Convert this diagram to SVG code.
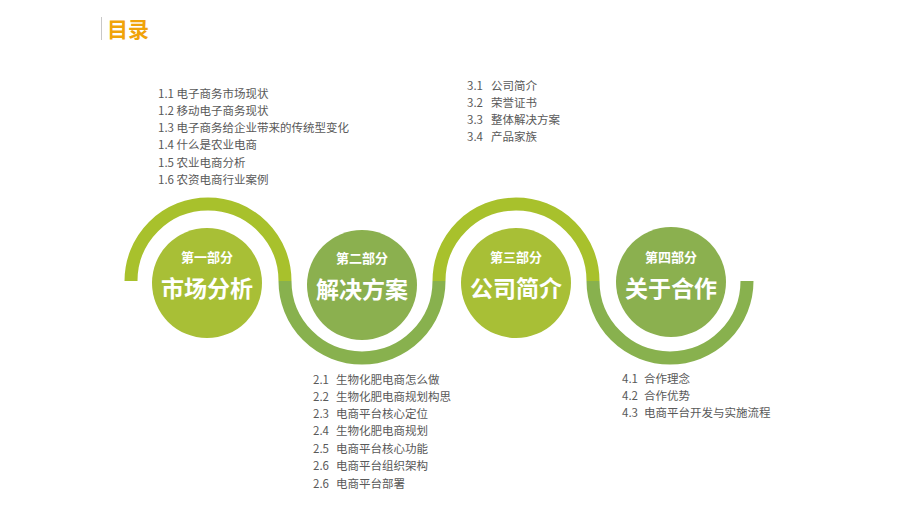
<svg xmlns="http://www.w3.org/2000/svg" width="920" height="518" viewBox="0 0 920 518">
<style>
.t{font-family:"Noto Sans CJK SC","Noto Sans",sans-serif;font-size:11.5px;fill:#595959}
.s{font-family:"Noto Sans CJK SC","Noto Sans",sans-serif;font-size:13px;font-weight:bold;fill:#fff;text-anchor:middle}
.b{font-family:"Noto Sans CJK SC","Noto Sans",sans-serif;font-size:23px;font-weight:bold;fill:#fff;text-anchor:middle}
.ay{fill:none;stroke:#A8C12C;stroke-width:13}
.ag{fill:none;stroke:#88B14E;stroke-width:13}
</style>
<rect width="920" height="518" fill="#fff"/>
<g id="title">
<line x1="101.5" y1="17" x2="101.5" y2="40" stroke="#c8c8c8" stroke-width="1"/>
<text x="107" y="37" font-family="Noto Sans CJK SC,sans-serif" font-size="21" font-weight="bold" fill="#F0A30A">目录</text>
</g>
<g id="connectors">
<path class="ay" d="M131,281 A77,77 0 0 1 285,281"/>
<path class="ag" d="M285,281 A77,77 0 0 0 439,281"/>
<path class="ay" d="M439,281 A77,77 0 0 1 593,281"/>
<path class="ag" d="M593,281 A77,77 0 0 0 747,281"/>
</g>
<g id="node1">
<circle cx="207" cy="283" r="55" fill="#A8BF36"/>
<text class="s" x="207" y="262">第一部分</text>
<text class="b" x="207" y="297">市场分析</text>
</g>
<g id="node2">
<circle cx="362" cy="285" r="55" fill="#8BB04F"/>
<text class="s" x="362" y="263">第二部分</text>
<text class="b" x="362" y="298">解决方案</text>
</g>
<g id="node3">
<circle cx="516" cy="283" r="55" fill="#A8BF36"/>
<text class="s" x="516" y="262">第三部分</text>
<text class="b" x="516" y="297">公司简介</text>
</g>
<g id="node4">
<circle cx="671" cy="282" r="55" fill="#8BB04F"/>
<text class="s" x="671" y="262">第四部分</text>
<text class="b" x="671" y="297">关于合作</text>
</g>
<g id="list1" class="t">
<text x="158" y="98">1.1 电子商务市场现状</text>
<text x="158" y="115">1.2 移动电子商务现状</text>
<text x="158" y="132">1.3 电子商务给企业带来的传统型变化</text>
<text x="158" y="149">1.4 什么是农业电商</text>
<text x="158" y="166.5">1.5 农业电商分析</text>
<text x="158" y="184">1.6 农资电商行业案例</text>
</g>
<g id="list3" class="t">
<text y="90"><tspan x="467">3.1</tspan><tspan x="491">公司简介</tspan></text>
<text y="107"><tspan x="467">3.2</tspan><tspan x="491">荣誉证书</tspan></text>
<text y="124"><tspan x="467">3.3</tspan><tspan x="491">整体解决方案</tspan></text>
<text y="141"><tspan x="467">3.4</tspan><tspan x="491">产品家族</tspan></text>
</g>
<g id="list2" class="t">
<text y="384"><tspan x="313">2.1</tspan><tspan x="336">生物化肥电商怎么做</tspan></text>
<text y="401"><tspan x="313">2.2</tspan><tspan x="336">生物化肥电商规划构思</tspan></text>
<text y="418"><tspan x="313">2.3</tspan><tspan x="336">电商平台核心定位</tspan></text>
<text y="435"><tspan x="313">2.4</tspan><tspan x="336">生物化肥电商规划</tspan></text>
<text y="452.5"><tspan x="313">2.5</tspan><tspan x="336">电商平台核心功能</tspan></text>
<text y="470"><tspan x="313">2.6</tspan><tspan x="336">电商平台组织架构</tspan></text>
<text y="488"><tspan x="313">2.6</tspan><tspan x="336">电商平台部署</tspan></text>
</g>
<g id="list4" class="t">
<text y="383"><tspan x="622">4.1</tspan><tspan x="644">合作理念</tspan></text>
<text y="400"><tspan x="622">4.2</tspan><tspan x="644">合作优势</tspan></text>
<text y="417"><tspan x="622">4.3</tspan><tspan x="644">电商平台开发与实施流程</tspan></text>
</g>
</svg>
